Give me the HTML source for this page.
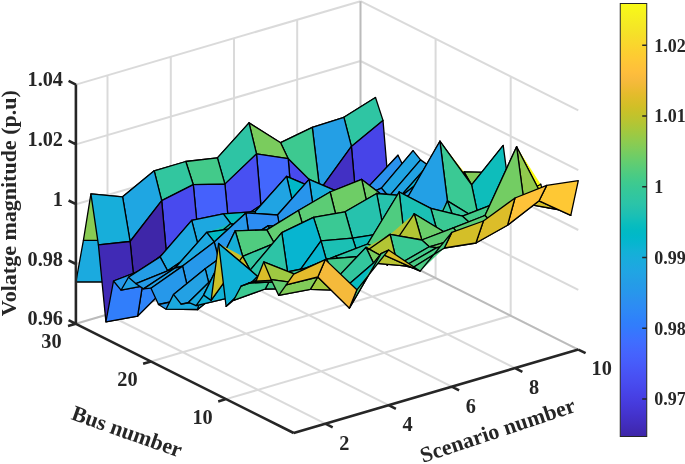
<!DOCTYPE html>
<html><head><meta charset="utf-8"><title>Voltage magnitude surface</title>
<style>html,body{margin:0;padding:0;background:#fff}svg{display:block}</style></head>
<body>
<svg width="685" height="464" viewBox="0 0 685 464">
<rect width="685" height="464" fill="#fff"/>
<g stroke="#262626" stroke-opacity="0.17" stroke-width="2" fill="none"><path d="M107.5 314.5L107.5 75.3M170.8 296.0L170.8 56.8M234.0 277.5L234.0 38.3M297.2 258.9L297.2 19.7M360.5 240.4L360.5 1.2M75.9 323.8L360.5 240.4M75.9 264.0L360.5 180.6M75.9 204.2L360.5 120.8M75.9 144.4L360.5 61.0M75.9 84.6L360.5 1.2"/><path d="M510.7 315.7L510.7 76.5M435.6 278.0L435.6 38.8M360.5 240.4L360.5 1.2M360.5 240.4L578.3 349.6M360.5 180.6L578.3 289.8M360.5 120.8L578.3 230.0M360.5 61.0L578.3 170.2M360.5 1.2L578.3 110.4"/><path d="M325.3 423.7L107.5 314.5M388.6 405.2L170.8 296.0M451.8 386.6L234.0 277.5M515.0 368.1L297.2 258.9M578.3 349.6L360.5 240.4M226.1 399.1L510.7 315.7M151.0 361.5L435.6 278.0M75.9 323.8L360.5 240.4"/></g>
<g stroke="#000" stroke-width="1.3" stroke-linejoin="round"><path d="M336.4 160.7L368.0 154.4L360.5 192.5ZM336.4 160.7L360.5 192.5L328.9 198.8Z" fill="#11b1d6" stroke="none"/><path d="M336.4 160.7L368.0 154.4L360.5 192.5L328.9 198.8Z" fill="none"/><path d="M304.8 179.0L336.4 160.7L328.9 198.8ZM304.8 179.0L328.9 198.8L297.2 217.1Z" fill="#20a5e3" stroke="none"/><path d="M304.8 179.0L336.4 160.7L328.9 198.8L297.2 217.1Z" fill="none"/><path d="M273.1 182.3L304.8 179.0L297.2 217.1ZM273.1 182.3L297.2 217.1L265.6 220.4Z" fill="#18aedb" stroke="none"/><path d="M273.1 182.3L304.8 179.0L297.2 217.1L265.6 220.4Z" fill="none"/><path d="M241.5 188.5L273.1 182.3L265.6 220.4ZM241.5 188.5L265.6 220.4L234.0 226.6Z" fill="#11b1d6" stroke="none"/><path d="M241.5 188.5L273.1 182.3L265.6 220.4L234.0 226.6Z" fill="none"/><path d="M209.9 203.8L241.5 188.5L234.0 226.6ZM209.9 203.8L234.0 226.6L202.4 241.9Z" fill="#1ca9df" stroke="none"/><path d="M209.9 203.8L241.5 188.5L234.0 226.6L202.4 241.9Z" fill="none"/><path d="M178.3 204.1L209.9 203.8L202.4 241.9ZM178.3 204.1L202.4 241.9L170.8 242.2Z" fill="#07b5d0" stroke="none"/><path d="M178.3 204.1L209.9 203.8L202.4 241.9L170.8 242.2Z" fill="none"/><path d="M146.7 219.3L178.3 204.1L170.8 242.2ZM146.7 219.3L170.8 242.2L139.2 257.4Z" fill="#18aedb" stroke="none"/><path d="M146.7 219.3L178.3 204.1L170.8 242.2L139.2 257.4Z" fill="none"/><path d="M115.0 240.3L146.7 219.3L139.2 257.4ZM115.0 240.3L139.2 257.4L107.5 282.0Z" fill="#259be7" stroke="none"/><path d="M115.0 240.3L146.7 219.3L139.2 257.4L107.5 282.0Z" fill="none"/><path d="M83.4 240.3L115.0 240.3L107.5 282.0ZM83.4 240.3L107.5 282.0L75.9 282.0Z" fill="#1baadf" stroke="none"/><path d="M83.4 240.3L115.0 240.3L107.5 282.0L75.9 282.0Z" fill="none"/><path d="M343.9 117.3L375.5 97.5L368.0 154.4ZM343.9 117.3L368.0 154.4L336.4 160.7Z" fill="#94ca4a" stroke="none"/><path d="M343.9 117.3L375.5 97.5L368.0 154.4L336.4 160.7Z" fill="none"/><path d="M312.3 127.4L343.9 117.3L336.4 160.7ZM312.3 127.4L336.4 160.7L304.8 179.0Z" fill="#90ca4d" stroke="none"/><path d="M312.3 127.4L343.9 117.3L336.4 160.7L304.8 179.0Z" fill="none"/><path d="M280.6 142.7L312.3 127.4L304.8 179.0ZM280.6 142.7L304.8 179.0L273.1 182.3Z" fill="#71cd64" stroke="none"/><path d="M280.6 142.7L312.3 127.4L304.8 179.0L273.1 182.3Z" fill="none"/><path d="M249.0 122.9L280.6 142.7L273.1 182.3ZM249.0 122.9L273.1 182.3L241.5 188.5Z" fill="#efba35" stroke="none"/><path d="M249.0 122.9L280.6 142.7L273.1 182.3L241.5 188.5Z" fill="none"/><path d="M217.4 157.9L249.0 122.9L241.5 188.5ZM217.4 157.9L241.5 188.5L209.9 203.8Z" fill="#82cc58" stroke="none"/><path d="M217.4 157.9L249.0 122.9L241.5 188.5L209.9 203.8Z" fill="none"/><path d="M185.8 161.5L217.4 157.9L209.9 203.8ZM185.8 161.5L209.9 203.8L178.3 204.1Z" fill="#9ec942" stroke="none"/><path d="M185.8 161.5L217.4 157.9L209.9 203.8L178.3 204.1Z" fill="none"/><path d="M154.2 170.8L185.8 161.5L178.3 204.1ZM154.2 170.8L178.3 204.1L146.7 219.3Z" fill="#9ec942" stroke="none"/><path d="M154.2 170.8L185.8 161.5L178.3 204.1L146.7 219.3Z" fill="none"/><path d="M122.6 196.8L154.2 170.8L146.7 219.3ZM122.6 196.8L146.7 219.3L115.0 240.3Z" fill="#4ecc81" stroke="none"/><path d="M122.6 196.8L154.2 170.8L146.7 219.3L115.0 240.3Z" fill="none"/><path d="M90.9 193.8L122.6 196.8L115.0 240.3ZM90.9 193.8L115.0 240.3L83.4 240.3Z" fill="#88cb53" stroke="none"/><path d="M90.9 193.8L122.6 196.8L115.0 240.3L83.4 240.3Z" fill="none"/><path d="M351.4 146.4L375.5 97.5L383.0 120.4ZM351.4 146.4L343.9 117.3L375.5 97.5Z" fill="#2fc5a3" stroke="none"/><path d="M351.4 146.4L383.0 120.4L375.5 97.5L343.9 117.3Z" fill="none"/><path d="M319.8 190.1L343.9 117.3L351.4 146.4ZM319.8 190.1L312.3 127.4L343.9 117.3Z" fill="#249fe5" stroke="none"/><path d="M319.8 190.1L351.4 146.4L343.9 117.3L312.3 127.4Z" fill="none"/><path d="M288.2 158.7L312.3 127.4L319.8 190.1ZM288.2 158.7L280.6 142.7L312.3 127.4Z" fill="#3dc990" stroke="none"/><path d="M288.2 158.7L319.8 190.1L312.3 127.4L280.6 142.7Z" fill="none"/><path d="M256.5 153.9L280.6 142.7L288.2 158.7ZM256.5 153.9L249.0 122.9L280.6 142.7Z" fill="#7acc5d" stroke="none"/><path d="M256.5 153.9L288.2 158.7L280.6 142.7L249.0 122.9Z" fill="none"/><path d="M224.9 184.1L249.0 122.9L256.5 153.9ZM224.9 184.1L217.4 157.9L249.0 122.9Z" fill="#2ec4a4" stroke="none"/><path d="M224.9 184.1L256.5 153.9L249.0 122.9L217.4 157.9Z" fill="none"/><path d="M193.3 184.7L217.4 157.9L224.9 184.1ZM193.3 184.7L185.8 161.5L217.4 157.9Z" fill="#43ca8a" stroke="none"/><path d="M193.3 184.7L224.9 184.1L217.4 157.9L185.8 161.5Z" fill="none"/><path d="M161.7 200.6L185.8 161.5L193.3 184.7ZM161.7 200.6L154.2 170.8L185.8 161.5Z" fill="#32c69f" stroke="none"/><path d="M161.7 200.6L193.3 184.7L185.8 161.5L154.2 170.8Z" fill="none"/><path d="M130.1 241.5L154.2 170.8L161.7 200.6ZM130.1 241.5L122.6 196.8L154.2 170.8Z" fill="#1fa6e2" stroke="none"/><path d="M130.1 241.5L161.7 200.6L154.2 170.8L122.6 196.8Z" fill="none"/><path d="M98.4 244.8L122.6 196.8L130.1 241.5ZM98.4 244.8L90.9 193.8L122.6 196.8Z" fill="#17aeda" stroke="none"/><path d="M98.4 244.8L130.1 241.5L122.6 196.8L90.9 193.8Z" fill="none"/><path d="M358.9 231.8L383.0 120.4L390.5 210.6ZM358.9 231.8L351.4 146.4L383.0 120.4Z" fill="#4744e8" stroke="none"/><path d="M358.9 231.8L390.5 210.6L383.0 120.4L351.4 146.4Z" fill="none"/><path d="M327.3 253.1L351.4 146.4L358.9 231.8ZM327.3 253.1L319.8 190.1L351.4 146.4Z" fill="#4230c4" stroke="none"/><path d="M327.3 253.1L358.9 231.8L351.4 146.4L319.8 190.1Z" fill="none"/><path d="M295.7 247.4L319.8 190.1L327.3 253.1ZM295.7 247.4L288.2 158.7L319.8 190.1Z" fill="#484aee" stroke="none"/><path d="M295.7 247.4L327.3 253.1L319.8 190.1L288.2 158.7Z" fill="none"/><path d="M264.0 241.7L288.2 158.7L295.7 247.4ZM264.0 241.7L256.5 153.9L288.2 158.7Z" fill="#4367fd" stroke="none"/><path d="M264.0 241.7L295.7 247.4L288.2 158.7L256.5 153.9Z" fill="none"/><path d="M232.4 262.9L256.5 153.9L264.0 241.7ZM232.4 262.9L224.9 184.1L256.5 153.9Z" fill="#4850f2" stroke="none"/><path d="M232.4 262.9L264.0 241.7L256.5 153.9L224.9 184.1Z" fill="none"/><path d="M200.8 263.2L224.9 184.1L232.4 262.9ZM200.8 263.2L193.3 184.7L224.9 184.1Z" fill="#4561fc" stroke="none"/><path d="M200.8 263.2L232.4 262.9L224.9 184.1L193.3 184.7Z" fill="none"/><path d="M169.2 284.5L193.3 184.7L200.8 263.2ZM169.2 284.5L161.7 200.6L193.3 184.7Z" fill="#484aee" stroke="none"/><path d="M169.2 284.5L200.8 263.2L193.3 184.7L161.7 200.6Z" fill="none"/><path d="M137.6 316.1L161.7 200.6L169.2 284.5ZM137.6 316.1L130.1 241.5L161.7 200.6Z" fill="#3e26a8" stroke="none"/><path d="M137.6 316.1L169.2 284.5L161.7 200.6L130.1 241.5Z" fill="none"/><path d="M105.9 321.8L130.1 241.5L137.6 316.1ZM105.9 321.8L98.4 244.8L130.1 241.5Z" fill="#402ab5" stroke="none"/><path d="M105.9 321.8L137.6 316.1L130.1 241.5L98.4 244.8Z" fill="none"/><path d="M366.4 188.9L398.0 155.2L390.5 210.6ZM366.4 188.9L390.5 210.6L358.9 231.8Z" fill="#249ee6" stroke="none"/><path d="M366.4 188.9L398.0 155.2L390.5 210.6L358.9 231.8Z" fill="none"/><path d="M334.8 204.8L366.4 188.9L358.9 231.8ZM334.8 204.8L358.9 231.8L327.3 253.1Z" fill="#2a93ee" stroke="none"/><path d="M334.8 204.8L366.4 188.9L358.9 231.8L327.3 253.1Z" fill="none"/><path d="M303.2 197.9L334.8 204.8L327.3 253.1ZM303.2 197.9L327.3 253.1L295.7 247.4Z" fill="#19addc" stroke="none"/><path d="M303.2 197.9L334.8 204.8L327.3 253.1L295.7 247.4Z" fill="none"/><path d="M271.6 198.2L303.2 197.9L295.7 247.4ZM271.6 198.2L295.7 247.4L264.0 241.7Z" fill="#01b7ca" stroke="none"/><path d="M271.6 198.2L303.2 197.9L295.7 247.4L264.0 241.7Z" fill="none"/><path d="M239.9 219.1L271.6 198.2L264.0 241.7ZM239.9 219.1L264.0 241.7L232.4 262.9Z" fill="#1da9e0" stroke="none"/><path d="M239.9 219.1L271.6 198.2L264.0 241.7L232.4 262.9Z" fill="none"/><path d="M208.3 226.3L239.9 219.1L232.4 262.9ZM208.3 226.3L232.4 262.9L200.8 263.2Z" fill="#1aacdd" stroke="none"/><path d="M208.3 226.3L239.9 219.1L232.4 262.9L200.8 263.2Z" fill="none"/><path d="M176.7 242.8L208.3 226.3L200.8 263.2ZM176.7 242.8L200.8 263.2L169.2 284.5Z" fill="#23a1e4" stroke="none"/><path d="M176.7 242.8L208.3 226.3L200.8 263.2L169.2 284.5Z" fill="none"/><path d="M145.1 268.8L176.7 242.8L169.2 284.5ZM145.1 268.8L169.2 284.5L137.6 316.1Z" fill="#2e84f9" stroke="none"/><path d="M145.1 268.8L176.7 242.8L169.2 284.5L137.6 316.1Z" fill="none"/><path d="M113.5 281.0L145.1 268.8L137.6 316.1ZM113.5 281.0L137.6 316.1L105.9 321.8Z" fill="#317efb" stroke="none"/><path d="M113.5 281.0L145.1 268.8L137.6 316.1L105.9 321.8Z" fill="none"/><path d="M373.9 199.6L398.0 155.2L405.5 170.6ZM373.9 199.6L366.4 188.9L398.0 155.2Z" fill="#2a92ee" stroke="none"/><path d="M373.9 199.6L405.5 170.6L398.0 155.2L366.4 188.9Z" fill="none"/><path d="M342.3 236.4L366.4 188.9L373.9 199.6ZM342.3 236.4L334.8 204.8L366.4 188.9Z" fill="#475cfa" stroke="none"/><path d="M342.3 236.4L373.9 199.6L366.4 188.9L334.8 204.8Z" fill="none"/><path d="M310.7 217.8L334.8 204.8L342.3 236.4ZM310.7 217.8L303.2 197.9L334.8 204.8Z" fill="#2a93ee" stroke="none"/><path d="M310.7 217.8L342.3 236.4L334.8 204.8L303.2 197.9Z" fill="none"/><path d="M279.1 225.0L303.2 197.9L310.7 217.8ZM279.1 225.0L271.6 198.2L303.2 197.9Z" fill="#2797eb" stroke="none"/><path d="M279.1 225.0L310.7 217.8L303.2 197.9L271.6 198.2Z" fill="none"/><path d="M247.5 245.6L271.6 198.2L279.1 225.0ZM247.5 245.6L239.9 219.1L271.6 198.2Z" fill="#2f82fa" stroke="none"/><path d="M247.5 245.6L279.1 225.0L271.6 198.2L239.9 219.1Z" fill="none"/><path d="M215.8 244.4L239.9 219.1L247.5 245.6ZM215.8 244.4L208.3 226.3L239.9 219.1Z" fill="#2895ec" stroke="none"/><path d="M215.8 244.4L247.5 245.6L239.9 219.1L208.3 226.3Z" fill="none"/><path d="M184.2 248.6L208.3 226.3L215.8 244.4ZM184.2 248.6L176.7 242.8L208.3 226.3Z" fill="#249de6" stroke="none"/><path d="M184.2 248.6L215.8 244.4L208.3 226.3L176.7 242.8Z" fill="none"/><path d="M152.6 284.2L176.7 242.8L184.2 248.6ZM152.6 284.2L145.1 268.8L176.7 242.8Z" fill="#2698ea" stroke="none"/><path d="M152.6 284.2L184.2 248.6L176.7 242.8L145.1 268.8Z" fill="none"/><path d="M121.0 290.2L145.1 268.8L152.6 284.2ZM121.0 290.2L113.5 281.0L145.1 268.8Z" fill="#2698ea" stroke="none"/><path d="M121.0 290.2L152.6 284.2L145.1 268.8L113.5 281.0Z" fill="none"/><path d="M381.4 188.1L413.1 150.7L405.5 170.6ZM381.4 188.1L405.5 170.6L373.9 199.6Z" fill="#1babde" stroke="none"/><path d="M381.4 188.1L413.1 150.7L405.5 170.6L373.9 199.6Z" fill="none"/><path d="M349.8 202.2L381.4 188.1L373.9 199.6ZM349.8 202.2L373.9 199.6L342.3 236.4Z" fill="#21a4e3" stroke="none"/><path d="M349.8 202.2L381.4 188.1L373.9 199.6L342.3 236.4Z" fill="none"/><path d="M318.2 189.9L349.8 202.2L342.3 236.4ZM318.2 189.9L342.3 236.4L310.7 217.8Z" fill="#0ebdbb" stroke="none"/><path d="M318.2 189.9L349.8 202.2L342.3 236.4L310.7 217.8Z" fill="none"/><path d="M286.6 176.4L318.2 189.9L310.7 217.8ZM286.6 176.4L310.7 217.8L279.1 225.0Z" fill="#57cc7a" stroke="none"/><path d="M286.6 176.4L318.2 189.9L310.7 217.8L279.1 225.0Z" fill="none"/><path d="M255.0 211.7L286.6 176.4L279.1 225.0ZM255.0 211.7L279.1 225.0L247.5 245.6Z" fill="#02bbc3" stroke="none"/><path d="M255.0 211.7L286.6 176.4L279.1 225.0L247.5 245.6Z" fill="none"/><path d="M223.3 213.8L255.0 211.7L247.5 245.6ZM223.3 213.8L247.5 245.6L215.8 244.4Z" fill="#1fc0b2" stroke="none"/><path d="M223.3 213.8L255.0 211.7L247.5 245.6L215.8 244.4Z" fill="none"/><path d="M191.7 220.4L223.3 213.8L215.8 244.4ZM191.7 220.4L215.8 244.4L184.2 248.6Z" fill="#27c2ab" stroke="none"/><path d="M191.7 220.4L223.3 213.8L215.8 244.4L184.2 248.6Z" fill="none"/><path d="M160.1 256.9L191.7 220.4L184.2 248.6ZM160.1 256.9L184.2 248.6L152.6 284.2Z" fill="#23a0e5" stroke="none"/><path d="M160.1 256.9L191.7 220.4L184.2 248.6L152.6 284.2Z" fill="none"/><path d="M128.5 277.2L160.1 256.9L152.6 284.2ZM128.5 277.2L152.6 284.2L121.0 290.2Z" fill="#22a2e4" stroke="none"/><path d="M128.5 277.2L160.1 256.9L152.6 284.2L121.0 290.2Z" fill="none"/><path d="M388.9 196.7L413.1 150.7L420.6 159.9ZM388.9 196.7L381.4 188.1L413.1 150.7Z" fill="#21a4e3" stroke="none"/><path d="M388.9 196.7L420.6 159.9L413.1 150.7L381.4 188.1Z" fill="none"/><path d="M357.3 216.1L381.4 188.1L388.9 196.7ZM357.3 216.1L349.8 202.2L381.4 188.1Z" fill="#2a93ee" stroke="none"/><path d="M357.3 216.1L388.9 196.7L381.4 188.1L349.8 202.2Z" fill="none"/><path d="M325.7 211.9L349.8 202.2L357.3 216.1ZM325.7 211.9L318.2 189.9L349.8 202.2Z" fill="#1da9e0" stroke="none"/><path d="M325.7 211.9L357.3 216.1L349.8 202.2L318.2 189.9Z" fill="none"/><path d="M294.1 208.6L318.2 189.9L325.7 211.9ZM294.1 208.6L286.6 176.4L318.2 189.9Z" fill="#01b8c8" stroke="none"/><path d="M294.1 208.6L325.7 211.9L318.2 189.9L286.6 176.4Z" fill="none"/><path d="M262.5 233.4L286.6 176.4L294.1 208.6ZM262.5 233.4L255.0 211.7L286.6 176.4Z" fill="#20a4e3" stroke="none"/><path d="M262.5 233.4L294.1 208.6L286.6 176.4L255.0 211.7Z" fill="none"/><path d="M230.8 223.6L255.0 211.7L262.5 233.4ZM230.8 223.6L223.3 213.8L255.0 211.7Z" fill="#06bcc0" stroke="none"/><path d="M230.8 223.6L262.5 233.4L255.0 211.7L223.3 213.8Z" fill="none"/><path d="M199.2 249.3L223.3 213.8L230.8 223.6ZM199.2 249.3L191.7 220.4L223.3 213.8Z" fill="#1da8e0" stroke="none"/><path d="M199.2 249.3L230.8 223.6L223.3 213.8L191.7 220.4Z" fill="none"/><path d="M167.6 270.8L191.7 220.4L199.2 249.3ZM167.6 270.8L160.1 256.9L191.7 220.4Z" fill="#1da8e0" stroke="none"/><path d="M167.6 270.8L199.2 249.3L191.7 220.4L160.1 256.9Z" fill="none"/><path d="M136.0 283.7L160.1 256.9L167.6 270.8ZM136.0 283.7L128.5 277.2L160.1 256.9Z" fill="#249de6" stroke="none"/><path d="M136.0 283.7L167.6 270.8L160.1 256.9L128.5 277.2Z" fill="none"/><path d="M396.5 200.7L420.6 159.9L428.1 165.1ZM396.5 200.7L388.9 196.7L420.6 159.9Z" fill="#21a3e3" stroke="none"/><path d="M396.5 200.7L428.1 165.1L420.6 159.9L388.9 196.7Z" fill="none"/><path d="M364.8 220.2L388.9 196.7L396.5 200.7ZM364.8 220.2L357.3 216.1L388.9 196.7Z" fill="#2a92ee" stroke="none"/><path d="M364.8 220.2L396.5 200.7L388.9 196.7L357.3 216.1Z" fill="none"/><path d="M333.2 196.8L364.8 220.2L357.3 216.1ZM333.2 196.8L357.3 216.1L325.7 211.9Z" fill="#10beba" stroke="none"/><path d="M333.2 196.8L364.8 220.2L357.3 216.1L325.7 211.9Z" fill="none"/><path d="M301.6 197.7L333.2 196.8L325.7 211.9ZM301.6 197.7L325.7 211.9L294.1 208.6Z" fill="#2dc4a5" stroke="none"/><path d="M301.6 197.7L333.2 196.8L325.7 211.9L294.1 208.6Z" fill="none"/><path d="M270.0 220.8L301.6 197.7L294.1 208.6ZM270.0 220.8L294.1 208.6L262.5 233.4Z" fill="#01b9c6" stroke="none"/><path d="M270.0 220.8L301.6 197.7L294.1 208.6L262.5 233.4Z" fill="none"/><path d="M238.4 227.6L270.0 220.8L262.5 233.4ZM238.4 227.6L230.8 223.6L262.5 233.4Z" fill="#05bbc1" stroke="none"/><path d="M238.4 227.6L270.0 220.8L262.5 233.4L230.8 223.6Z" fill="none"/><path d="M206.7 232.4L230.8 223.6L238.4 227.6ZM206.7 232.4L230.8 223.6L199.2 249.3Z" fill="#17bfb6" stroke="none"/><path d="M206.7 232.4L238.4 227.6L230.8 223.6L199.2 249.3Z" fill="none"/><path d="M175.1 268.0L206.7 232.4L199.2 249.3ZM175.1 268.0L167.6 270.8L199.2 249.3Z" fill="#20a4e3" stroke="none"/><path d="M175.1 268.0L206.7 232.4L199.2 249.3L167.6 270.8Z" fill="none"/><path d="M143.5 288.9L167.6 270.8L175.1 268.0ZM143.5 288.9L136.0 283.7L167.6 270.8Z" fill="#259be8" stroke="none"/><path d="M143.5 288.9L175.1 268.0L167.6 270.8L136.0 283.7Z" fill="none"/><path d="M404.0 194.0L428.1 165.1L435.6 169.5ZM404.0 194.0L396.5 200.7L428.1 165.1Z" fill="#0fb2d4" stroke="none"/><path d="M404.0 194.0L435.6 169.5L428.1 165.1L396.5 200.7Z" fill="none"/><path d="M372.3 209.3L404.0 194.0L396.5 200.7ZM372.3 209.3L396.5 200.7L364.8 220.2Z" fill="#1baadf" stroke="none"/><path d="M372.3 209.3L404.0 194.0L396.5 200.7L364.8 220.2Z" fill="none"/><path d="M340.7 192.8L372.3 209.3L364.8 220.2ZM340.7 192.8L364.8 220.2L333.2 196.8Z" fill="#2cc4a7" stroke="none"/><path d="M340.7 192.8L372.3 209.3L364.8 220.2L333.2 196.8Z" fill="none"/><path d="M309.1 179.4L340.7 192.8L333.2 196.8ZM309.1 179.4L333.2 196.8L301.6 197.7Z" fill="#7fcc5a" stroke="none"/><path d="M309.1 179.4L340.7 192.8L333.2 196.8L301.6 197.7Z" fill="none"/><path d="M277.5 215.0L309.1 179.4L301.6 197.7ZM277.5 215.0L301.6 197.7L270.0 220.8Z" fill="#22c1b0" stroke="none"/><path d="M277.5 215.0L309.1 179.4L301.6 197.7L270.0 220.8Z" fill="none"/><path d="M245.9 212.9L277.5 215.0L270.0 220.8ZM245.9 212.9L270.0 220.8L238.4 227.6Z" fill="#3dc990" stroke="none"/><path d="M245.9 212.9L277.5 215.0L270.0 220.8L238.4 227.6Z" fill="none"/><path d="M214.2 241.9L245.9 212.9L238.4 227.6ZM214.2 241.9L206.7 232.4L238.4 227.6Z" fill="#02bac4" stroke="none"/><path d="M214.2 241.9L245.9 212.9L238.4 227.6L206.7 232.4Z" fill="none"/><path d="M182.6 266.1L206.7 232.4L214.2 241.9ZM182.6 266.1L175.1 268.0L206.7 232.4Z" fill="#1da8e0" stroke="none"/><path d="M182.6 266.1L214.2 241.9L206.7 232.4L175.1 268.0Z" fill="none"/><path d="M151.0 288.2L175.1 268.0L182.6 266.1ZM151.0 288.2L143.5 288.9L175.1 268.0Z" fill="#22a2e4" stroke="none"/><path d="M151.0 288.2L182.6 266.1L175.1 268.0L143.5 288.9Z" fill="none"/><path d="M411.5 210.9L435.6 169.5L443.1 188.8ZM411.5 210.9L404.0 194.0L435.6 169.5Z" fill="#249fe5" stroke="none"/><path d="M411.5 210.9L443.1 188.8L435.6 169.5L404.0 194.0Z" fill="none"/><path d="M379.9 255.8L404.0 194.0L411.5 210.9ZM379.9 255.8L372.3 209.3L404.0 194.0Z" fill="#475bf9" stroke="none"/><path d="M379.9 255.8L411.5 210.9L404.0 194.0L372.3 209.3Z" fill="none"/><path d="M348.2 225.3L372.3 209.3L379.9 255.8ZM348.2 225.3L340.7 192.8L372.3 209.3Z" fill="#1fa6e2" stroke="none"/><path d="M348.2 225.3L379.9 255.8L372.3 209.3L340.7 192.8Z" fill="none"/><path d="M316.6 229.8L340.7 192.8L348.2 225.3ZM316.6 229.8L309.1 179.4L340.7 192.8Z" fill="#19addc" stroke="none"/><path d="M316.6 229.8L348.2 225.3L340.7 192.8L309.1 179.4Z" fill="none"/><path d="M285.0 254.0L309.1 179.4L316.6 229.8ZM285.0 254.0L277.5 215.0L309.1 179.4Z" fill="#2895ec" stroke="none"/><path d="M285.0 254.0L316.6 229.8L309.1 179.4L277.5 215.0Z" fill="none"/><path d="M253.4 267.8L277.5 215.0L285.0 254.0ZM253.4 267.8L245.9 212.9L277.5 215.0Z" fill="#2d8df2" stroke="none"/><path d="M253.4 267.8L285.0 254.0L277.5 215.0L245.9 212.9Z" fill="none"/><path d="M221.8 270.7L245.9 212.9L253.4 267.8ZM221.8 270.7L214.2 241.9L245.9 212.9Z" fill="#2798ea" stroke="none"/><path d="M221.8 270.7L253.4 267.8L245.9 212.9L214.2 241.9Z" fill="none"/><path d="M190.1 298.0L214.2 241.9L221.8 270.7ZM190.1 298.0L182.6 266.1L214.2 241.9Z" fill="#2698ea" stroke="none"/><path d="M190.1 298.0L221.8 270.7L214.2 241.9L182.6 266.1Z" fill="none"/><path d="M158.5 304.5L182.6 266.1L190.1 298.0ZM158.5 304.5L151.0 288.2L182.6 266.1Z" fill="#2698ea" stroke="none"/><path d="M158.5 304.5L190.1 298.0L182.6 266.1L151.0 288.2Z" fill="none"/><path d="M419.0 218.6L443.1 188.8L450.6 193.5ZM419.0 218.6L411.5 210.9L443.1 188.8Z" fill="#2698ea" stroke="none"/><path d="M419.0 218.6L450.6 193.5L443.1 188.8L411.5 210.9Z" fill="none"/><path d="M387.4 265.2L411.5 210.9L419.0 218.6ZM387.4 265.2L379.9 255.8L411.5 210.9Z" fill="#4850f2" stroke="none"/><path d="M387.4 265.2L419.0 218.6L411.5 210.9L379.9 255.8Z" fill="none"/><path d="M355.7 231.4L379.9 255.8L387.4 265.2ZM355.7 231.4L379.9 255.8L348.2 225.3Z" fill="#22a2e4" stroke="none"/><path d="M355.7 231.4L387.4 265.2L379.9 255.8L348.2 225.3Z" fill="none"/><path d="M324.1 226.1L348.2 225.3L355.7 231.4ZM324.1 226.1L348.2 225.3L316.6 229.8Z" fill="#05b6ce" stroke="none"/><path d="M324.1 226.1L355.7 231.4L348.2 225.3L316.6 229.8Z" fill="none"/><path d="M292.5 263.7L316.6 229.8L324.1 226.1ZM292.5 263.7L285.0 254.0L316.6 229.8Z" fill="#2d8af4" stroke="none"/><path d="M292.5 263.7L324.1 226.1L316.6 229.8L285.0 254.0Z" fill="none"/><path d="M260.9 259.3L285.0 254.0L292.5 263.7ZM260.9 259.3L285.0 254.0L253.4 267.8Z" fill="#22a2e4" stroke="none"/><path d="M260.9 259.3L292.5 263.7L285.0 254.0L253.4 267.8Z" fill="none"/><path d="M229.3 283.8L260.9 259.3L253.4 267.8ZM229.3 283.8L221.8 270.7L253.4 267.8Z" fill="#2d87f6" stroke="none"/><path d="M229.3 283.8L260.9 259.3L253.4 267.8L221.8 270.7Z" fill="none"/><path d="M197.6 309.5L221.8 270.7L229.3 283.8ZM197.6 309.5L190.1 298.0L221.8 270.7Z" fill="#2698ea" stroke="none"/><path d="M197.6 309.5L229.3 283.8L221.8 270.7L190.1 298.0Z" fill="none"/><path d="M166.0 309.2L190.1 298.0L197.6 309.5ZM166.0 309.2L158.5 304.5L190.1 298.0Z" fill="#2698ea" stroke="none"/><path d="M166.0 309.2L197.6 309.5L190.1 298.0L158.5 304.5Z" fill="none"/><path d="M426.5 211.6L458.1 174.5L450.6 193.5ZM426.5 211.6L450.6 193.5L419.0 218.6Z" fill="#1caadf" stroke="none"/><path d="M426.5 211.6L458.1 174.5L450.6 193.5L419.0 218.6Z" fill="none"/><path d="M394.9 219.4L426.5 211.6L419.0 218.6ZM394.9 219.4L419.0 218.6L387.4 265.2Z" fill="#1aacdd" stroke="none"/><path d="M394.9 219.4L426.5 211.6L419.0 218.6L387.4 265.2Z" fill="none"/><path d="M363.3 200.2L394.9 219.4L387.4 265.2ZM363.3 200.2L387.4 265.2L355.7 231.4Z" fill="#34c79c" stroke="none"/><path d="M363.3 200.2L394.9 219.4L387.4 265.2L355.7 231.4Z" fill="none"/><path d="M331.6 197.2L363.3 200.2L355.7 231.4ZM331.6 197.2L355.7 231.4L324.1 226.1Z" fill="#5fcd73" stroke="none"/><path d="M331.6 197.2L363.3 200.2L355.7 231.4L324.1 226.1Z" fill="none"/><path d="M300.0 229.2L331.6 197.2L324.1 226.1ZM300.0 229.2L324.1 226.1L292.5 263.7Z" fill="#16bfb7" stroke="none"/><path d="M300.0 229.2L331.6 197.2L324.1 226.1L292.5 263.7Z" fill="none"/><path d="M268.4 225.6L300.0 229.2L292.5 263.7ZM268.4 225.6L292.5 263.7L260.9 259.3Z" fill="#39c895" stroke="none"/><path d="M268.4 225.6L300.0 229.2L292.5 263.7L260.9 259.3Z" fill="none"/><path d="M236.8 246.0L268.4 225.6L260.9 259.3ZM236.8 246.0L260.9 259.3L229.3 283.8Z" fill="#1dc0b3" stroke="none"/><path d="M236.8 246.0L268.4 225.6L260.9 259.3L229.3 283.8Z" fill="none"/><path d="M205.2 268.7L236.8 246.0L229.3 283.8ZM205.2 268.7L229.3 283.8L197.6 309.5Z" fill="#13b0d7" stroke="none"/><path d="M205.2 268.7L236.8 246.0L229.3 283.8L197.6 309.5Z" fill="none"/><path d="M173.5 294.4L205.2 268.7L197.6 309.5ZM173.5 294.4L197.6 309.5L166.0 309.2Z" fill="#1baadf" stroke="none"/><path d="M173.5 294.4L205.2 268.7L197.6 309.5L166.0 309.2Z" fill="none"/><path d="M434.0 210.0L458.1 174.5L465.6 191.7ZM434.0 210.0L426.5 211.6L458.1 174.5Z" fill="#12b1d6" stroke="none"/><path d="M434.0 210.0L465.6 191.7L458.1 174.5L426.5 211.6Z" fill="none"/><path d="M402.4 242.9L426.5 211.6L434.0 210.0ZM402.4 242.9L394.9 219.4L426.5 211.6Z" fill="#2d8bf3" stroke="none"/><path d="M402.4 242.9L434.0 210.0L426.5 211.6L394.9 219.4Z" fill="none"/><path d="M370.8 231.2L394.9 219.4L402.4 242.9ZM370.8 231.2L363.3 200.2L394.9 219.4Z" fill="#18aedb" stroke="none"/><path d="M370.8 231.2L402.4 242.9L394.9 219.4L363.3 200.2Z" fill="none"/><path d="M339.1 225.2L363.3 200.2L370.8 231.2ZM339.1 225.2L331.6 197.2L363.3 200.2Z" fill="#0fbeba" stroke="none"/><path d="M339.1 225.2L370.8 231.2L363.3 200.2L331.6 197.2Z" fill="none"/><path d="M307.5 245.9L331.6 197.2L339.1 225.2ZM307.5 245.9L300.0 229.2L331.6 197.2Z" fill="#0eb2d4" stroke="none"/><path d="M307.5 245.9L339.1 225.2L331.6 197.2L300.0 229.2Z" fill="none"/><path d="M275.9 256.6L300.0 229.2L307.5 245.9ZM275.9 256.6L268.4 225.6L300.0 229.2Z" fill="#12b1d7" stroke="none"/><path d="M275.9 256.6L307.5 245.9L300.0 229.2L268.4 225.6Z" fill="none"/><path d="M244.3 270.7L268.4 225.6L275.9 256.6ZM244.3 270.7L236.8 246.0L268.4 225.6Z" fill="#1baadf" stroke="none"/><path d="M244.3 270.7L275.9 256.6L268.4 225.6L236.8 246.0Z" fill="none"/><path d="M212.7 298.8L236.8 246.0L244.3 270.7ZM212.7 298.8L205.2 268.7L236.8 246.0Z" fill="#20a4e3" stroke="none"/><path d="M212.7 298.8L244.3 270.7L236.8 246.0L205.2 268.7Z" fill="none"/><path d="M181.1 304.2L205.2 268.7L212.7 298.8ZM181.1 304.2L173.5 294.4L205.2 268.7Z" fill="#23a1e4" stroke="none"/><path d="M181.1 304.2L212.7 298.8L205.2 268.7L173.5 294.4Z" fill="none"/><path d="M441.5 213.7L465.6 191.7L473.1 186.8ZM441.5 213.7L434.0 210.0L465.6 191.7Z" fill="#12b1d6" stroke="none"/><path d="M441.5 213.7L473.1 186.8L465.6 191.7L434.0 210.0Z" fill="none"/><path d="M409.9 241.8L434.0 210.0L441.5 213.7ZM409.9 241.8L402.4 242.9L434.0 210.0Z" fill="#2994ed" stroke="none"/><path d="M409.9 241.8L441.5 213.7L434.0 210.0L402.4 242.9Z" fill="none"/><path d="M378.3 212.5L409.9 241.8L402.4 242.9ZM378.3 212.5L402.4 242.9L370.8 231.2Z" fill="#2ac3a9" stroke="none"/><path d="M378.3 212.5L409.9 241.8L402.4 242.9L370.8 231.2Z" fill="none"/><path d="M346.7 201.5L378.3 212.5L370.8 231.2ZM346.7 201.5L370.8 231.2L339.1 225.2Z" fill="#6ecd66" stroke="none"/><path d="M346.7 201.5L378.3 212.5L370.8 231.2L339.1 225.2Z" fill="none"/><path d="M315.0 241.0L346.7 201.5L339.1 225.2ZM315.0 241.0L339.1 225.2L307.5 245.9Z" fill="#05bbc1" stroke="none"/><path d="M315.0 241.0L346.7 201.5L339.1 225.2L307.5 245.9Z" fill="none"/><path d="M283.4 246.0L315.0 241.0L307.5 245.9ZM283.4 246.0L307.5 245.9L275.9 256.6Z" fill="#16bfb7" stroke="none"/><path d="M283.4 246.0L315.0 241.0L307.5 245.9L275.9 256.6Z" fill="none"/><path d="M251.8 252.3L283.4 246.0L275.9 256.6ZM251.8 252.3L275.9 256.6L244.3 270.7Z" fill="#22c1b0" stroke="none"/><path d="M251.8 252.3L283.4 246.0L275.9 256.6L244.3 270.7Z" fill="none"/><path d="M220.2 271.2L251.8 252.3L244.3 270.7ZM220.2 271.2L244.3 270.7L212.7 298.8Z" fill="#07bcbf" stroke="none"/><path d="M220.2 271.2L251.8 252.3L244.3 270.7L212.7 298.8Z" fill="none"/><path d="M188.6 302.3L220.2 271.2L212.7 298.8ZM188.6 302.3L212.7 298.8L181.1 304.2Z" fill="#1caadf" stroke="none"/><path d="M188.6 302.3L220.2 271.2L212.7 298.8L181.1 304.2Z" fill="none"/><path d="M449.0 221.4L473.1 186.8L480.6 178.9ZM449.0 221.4L441.5 213.7L473.1 186.8Z" fill="#1aacdd" stroke="none"/><path d="M449.0 221.4L480.6 178.9L473.1 186.8L441.5 213.7Z" fill="none"/><path d="M417.4 247.1L441.5 213.7L449.0 221.4ZM417.4 247.1L409.9 241.8L441.5 213.7Z" fill="#2b91ef" stroke="none"/><path d="M417.4 247.1L449.0 221.4L441.5 213.7L409.9 241.8Z" fill="none"/><path d="M385.8 225.6L409.9 241.8L417.4 247.1ZM385.8 225.6L378.3 212.5L409.9 241.8Z" fill="#07bcbf" stroke="none"/><path d="M385.8 225.6L417.4 247.1L409.9 241.8L378.3 212.5Z" fill="none"/><path d="M354.2 216.6L378.3 212.5L385.8 225.6ZM354.2 216.6L346.7 201.5L378.3 212.5Z" fill="#3eca8f" stroke="none"/><path d="M354.2 216.6L385.8 225.6L378.3 212.5L346.7 201.5Z" fill="none"/><path d="M322.6 245.3L346.7 201.5L354.2 216.6ZM322.6 245.3L315.0 241.0L346.7 201.5Z" fill="#03bbc2" stroke="none"/><path d="M322.6 245.3L354.2 216.6L346.7 201.5L315.0 241.0Z" fill="none"/><path d="M290.9 252.5L315.0 241.0L322.6 245.3ZM290.9 252.5L283.4 246.0L315.0 241.0Z" fill="#0abdbd" stroke="none"/><path d="M290.9 252.5L322.6 245.3L315.0 241.0L283.4 246.0Z" fill="none"/><path d="M259.3 274.0L283.4 246.0L290.9 252.5ZM259.3 274.0L251.8 252.3L283.4 246.0Z" fill="#14b0d8" stroke="none"/><path d="M259.3 274.0L290.9 252.5L283.4 246.0L251.8 252.3Z" fill="none"/><path d="M227.7 298.2L251.8 252.3L259.3 274.0ZM227.7 298.2L220.2 271.2L251.8 252.3Z" fill="#1aacdd" stroke="none"/><path d="M227.7 298.2L259.3 274.0L251.8 252.3L220.2 271.2Z" fill="none"/><path d="M196.1 305.7L220.2 271.2L227.7 298.2ZM196.1 305.7L188.6 302.3L220.2 271.2Z" fill="#1baadf" stroke="none"/><path d="M196.1 305.7L227.7 298.2L220.2 271.2L188.6 302.3Z" fill="none"/><path d="M456.5 176.1L488.2 175.8L480.6 178.9ZM456.5 176.1L480.6 178.9L449.0 221.4Z" fill="#88cb53" stroke="none"/><path d="M456.5 176.1L488.2 175.8L480.6 178.9L449.0 221.4Z" fill="none"/><path d="M424.9 203.3L456.5 176.1L449.0 221.4ZM424.9 203.3L449.0 221.4L417.4 247.1Z" fill="#3ac994" stroke="none"/><path d="M424.9 203.3L456.5 176.1L449.0 221.4L417.4 247.1Z" fill="none"/><path d="M393.3 203.6L424.9 203.3L417.4 247.1ZM393.3 203.6L417.4 247.1L385.8 225.6Z" fill="#5ccc75" stroke="none"/><path d="M393.3 203.6L424.9 203.3L417.4 247.1L385.8 225.6Z" fill="none"/><path d="M361.7 179.4L393.3 203.6L385.8 225.6ZM361.7 179.4L385.8 225.6L354.2 216.6Z" fill="#efba35" stroke="none"/><path d="M361.7 179.4L393.3 203.6L385.8 225.6L354.2 216.6Z" fill="none"/><path d="M330.1 192.0L361.7 179.4L354.2 216.6ZM330.1 192.0L354.2 216.6L322.6 245.3Z" fill="#e5bb2c" stroke="none"/><path d="M330.1 192.0L361.7 179.4L354.2 216.6L322.6 245.3Z" fill="none"/><path d="M298.4 210.5L330.1 192.0L322.6 245.3ZM298.4 210.5L322.6 245.3L290.9 252.5Z" fill="#c1c32c" stroke="none"/><path d="M298.4 210.5L330.1 192.0L322.6 245.3L290.9 252.5Z" fill="none"/><path d="M266.8 229.9L298.4 210.5L290.9 252.5ZM266.8 229.9L290.9 252.5L259.3 274.0Z" fill="#91ca4c" stroke="none"/><path d="M266.8 229.9L298.4 210.5L290.9 252.5L259.3 274.0Z" fill="none"/><path d="M235.2 230.8L266.8 229.9L259.3 274.0ZM235.2 230.8L259.3 274.0L227.7 298.2Z" fill="#b9c431" stroke="none"/><path d="M235.2 230.8L266.8 229.9L259.3 274.0L227.7 298.2Z" fill="none"/><path d="M203.6 295.1L235.2 230.8L227.7 298.2ZM203.6 295.1L227.7 298.2L196.1 305.7Z" fill="#11b1d6" stroke="none"/><path d="M203.6 295.1L235.2 230.8L227.7 298.2L196.1 305.7Z" fill="none"/><path d="M464.0 171.8L495.7 172.7L488.2 175.8ZM464.0 171.8L488.2 175.8L456.5 176.1Z" fill="#afc636" stroke="none"/><path d="M464.0 171.8L495.7 172.7L488.2 175.8L456.5 176.1Z" fill="none"/><path d="M432.4 219.1L456.5 176.1L464.0 171.8ZM432.4 219.1L424.9 203.3L456.5 176.1Z" fill="#1bc0b4" stroke="none"/><path d="M432.4 219.1L464.0 171.8L456.5 176.1L424.9 203.3Z" fill="none"/><path d="M400.8 219.4L424.9 203.3L432.4 219.1ZM400.8 219.4L393.3 203.6L424.9 203.3Z" fill="#33c69d" stroke="none"/><path d="M400.8 219.4L432.4 219.1L424.9 203.3L393.3 203.6Z" fill="none"/><path d="M369.2 213.1L393.3 203.6L400.8 219.4ZM369.2 213.1L361.7 179.4L393.3 203.6Z" fill="#6dcd68" stroke="none"/><path d="M369.2 213.1L400.8 219.4L393.3 203.6L361.7 179.4Z" fill="none"/><path d="M337.6 222.0L361.7 179.4L369.2 213.1ZM337.6 222.0L330.1 192.0L361.7 179.4Z" fill="#6ecd66" stroke="none"/><path d="M337.6 222.0L369.2 213.1L361.7 179.4L330.1 192.0Z" fill="none"/><path d="M305.9 235.2L330.1 192.0L337.6 222.0ZM305.9 235.2L298.4 210.5L330.1 192.0Z" fill="#5ccc75" stroke="none"/><path d="M305.9 235.2L337.6 222.0L330.1 192.0L298.4 210.5Z" fill="none"/><path d="M274.3 243.3L298.4 210.5L305.9 235.2ZM274.3 243.3L266.8 229.9L298.4 210.5Z" fill="#62cd71" stroke="none"/><path d="M274.3 243.3L305.9 235.2L298.4 210.5L266.8 229.9Z" fill="none"/><path d="M242.7 256.4L266.8 229.9L274.3 243.3ZM242.7 256.4L235.2 230.8L266.8 229.9Z" fill="#50cc7f" stroke="none"/><path d="M242.7 256.4L274.3 243.3L266.8 229.9L235.2 230.8Z" fill="none"/><path d="M211.1 300.4L235.2 230.8L242.7 256.4ZM211.1 300.4L203.6 295.1L235.2 230.8Z" fill="#15afd8" stroke="none"/><path d="M211.1 300.4L242.7 256.4L235.2 230.8L203.6 295.1Z" fill="none"/><path d="M471.6 184.8L503.2 145.4L495.7 172.7ZM471.6 184.8L464.0 171.8L495.7 172.7Z" fill="#82cc58" stroke="none"/><path d="M471.6 184.8L503.2 145.4L495.7 172.7L464.0 171.8Z" fill="none"/><path d="M439.9 141.2L464.0 171.8L471.6 184.8ZM439.9 141.2L464.0 171.8L432.4 219.1Z" fill="#f5eb23" stroke="none"/><path d="M439.9 141.2L471.6 184.8L464.0 171.8L432.4 219.1Z" fill="none"/><path d="M408.3 196.2L439.9 141.2L432.4 219.1ZM408.3 196.2L432.4 219.1L400.8 219.4Z" fill="#a5c83d" stroke="none"/><path d="M408.3 196.2L439.9 141.2L432.4 219.1L400.8 219.4Z" fill="none"/><path d="M376.7 193.5L408.3 196.2L400.8 219.4ZM376.7 193.5L400.8 219.4L369.2 213.1Z" fill="#d9be28" stroke="none"/><path d="M376.7 193.5L408.3 196.2L400.8 219.4L369.2 213.1Z" fill="none"/><path d="M345.1 211.8L376.7 193.5L369.2 213.1ZM345.1 211.8L369.2 213.1L337.6 222.0Z" fill="#b3c534" stroke="none"/><path d="M345.1 211.8L376.7 193.5L369.2 213.1L337.6 222.0Z" fill="none"/><path d="M313.5 217.4L345.1 211.8L337.6 222.0ZM313.5 217.4L337.6 222.0L305.9 235.2Z" fill="#c3c22b" stroke="none"/><path d="M313.5 217.4L345.1 211.8L337.6 222.0L305.9 235.2Z" fill="none"/><path d="M281.8 232.7L313.5 217.4L305.9 235.2ZM281.8 232.7L305.9 235.2L274.3 243.3Z" fill="#a8c73b" stroke="none"/><path d="M281.8 232.7L313.5 217.4L305.9 235.2L274.3 243.3Z" fill="none"/><path d="M250.2 270.1L281.8 232.7L274.3 243.3ZM250.2 270.1L242.7 256.4L274.3 243.3Z" fill="#32c69f" stroke="none"/><path d="M250.2 270.1L281.8 232.7L274.3 243.3L242.7 256.4Z" fill="none"/><path d="M218.6 243.5L242.7 256.4L250.2 270.1ZM218.6 243.5L242.7 256.4L211.1 300.4Z" fill="#cbc129" stroke="none"/><path d="M218.6 243.5L250.2 270.1L242.7 256.4L211.1 300.4Z" fill="none"/><path d="M479.1 220.3L503.2 145.4L510.7 202.1ZM479.1 220.3L471.6 184.8L503.2 145.4Z" fill="#0ebdbb" stroke="none"/><path d="M479.1 220.3L510.7 202.1L503.2 145.4L471.6 184.8Z" fill="none"/><path d="M447.4 200.9L471.6 184.8L479.1 220.3ZM447.4 200.9L439.9 141.2L471.6 184.8Z" fill="#3ac994" stroke="none"/><path d="M447.4 200.9L479.1 220.3L471.6 184.8L439.9 141.2Z" fill="none"/><path d="M415.8 268.7L439.9 141.2L447.4 200.9ZM415.8 268.7L408.3 196.2L439.9 141.2Z" fill="#23a0e5" stroke="none"/><path d="M415.8 268.7L447.4 200.9L439.9 141.2L408.3 196.2Z" fill="none"/><path d="M384.2 233.2L408.3 196.2L415.8 268.7ZM384.2 233.2L376.7 193.5L408.3 196.2Z" fill="#26c2ad" stroke="none"/><path d="M384.2 233.2L415.8 268.7L408.3 196.2L376.7 193.5Z" fill="none"/><path d="M352.6 238.2L376.7 193.5L384.2 233.2ZM352.6 238.2L345.1 211.8L376.7 193.5Z" fill="#26c2ad" stroke="none"/><path d="M352.6 238.2L384.2 233.2L376.7 193.5L345.1 211.8Z" fill="none"/><path d="M321.0 240.9L345.1 211.8L352.6 238.2ZM321.0 240.9L313.5 217.4L345.1 211.8Z" fill="#3ac994" stroke="none"/><path d="M321.0 240.9L352.6 238.2L345.1 211.8L313.5 217.4Z" fill="none"/><path d="M289.4 284.9L313.5 217.4L321.0 240.9ZM289.4 284.9L281.8 232.7L313.5 217.4Z" fill="#07b5d0" stroke="none"/><path d="M289.4 284.9L321.0 240.9L313.5 217.4L281.8 232.7Z" fill="none"/><path d="M257.7 276.5L281.8 232.7L289.4 284.9ZM257.7 276.5L250.2 270.1L281.8 232.7Z" fill="#2dc4a6" stroke="none"/><path d="M257.7 276.5L289.4 284.9L281.8 232.7L250.2 270.1Z" fill="none"/><path d="M226.1 306.4L250.2 270.1L257.7 276.5ZM226.1 306.4L218.6 243.5L250.2 270.1Z" fill="#11b1d6" stroke="none"/><path d="M226.1 306.4L257.7 276.5L250.2 270.1L218.6 243.5Z" fill="none"/><path d="M486.6 216.3L510.7 202.1L518.2 209.4ZM486.6 216.3L479.1 220.3L510.7 202.1Z" fill="#2bc3a8" stroke="none"/><path d="M486.6 216.3L518.2 209.4L510.7 202.1L479.1 220.3Z" fill="none"/><path d="M455.0 221.4L486.6 216.3L479.1 220.3ZM455.0 221.4L447.4 200.9L479.1 220.3Z" fill="#33c69d" stroke="none"/><path d="M455.0 221.4L486.6 216.3L479.1 220.3L447.4 200.9Z" fill="none"/><path d="M423.3 233.6L447.4 200.9L455.0 221.4ZM423.3 233.6L447.4 200.9L415.8 268.7Z" fill="#2dc4a5" stroke="none"/><path d="M423.3 233.6L455.0 221.4L447.4 200.9L415.8 268.7Z" fill="none"/><path d="M391.7 248.9L423.3 233.6L415.8 268.7ZM391.7 248.9L384.2 233.2L415.8 268.7Z" fill="#1bc0b4" stroke="none"/><path d="M391.7 248.9L423.3 233.6L415.8 268.7L384.2 233.2Z" fill="none"/><path d="M360.1 261.1L384.2 233.2L391.7 248.9ZM360.1 261.1L352.6 238.2L384.2 233.2Z" fill="#0ebdbb" stroke="none"/><path d="M360.1 261.1L391.7 248.9L384.2 233.2L352.6 238.2Z" fill="none"/><path d="M328.5 267.4L352.6 238.2L360.1 261.1ZM328.5 267.4L321.0 240.9L352.6 238.2Z" fill="#1bc0b4" stroke="none"/><path d="M328.5 267.4L360.1 261.1L352.6 238.2L321.0 240.9Z" fill="none"/><path d="M296.9 288.7L321.0 240.9L328.5 267.4ZM296.9 288.7L289.4 284.9L321.0 240.9Z" fill="#07b5d0" stroke="none"/><path d="M296.9 288.7L328.5 267.4L321.0 240.9L289.4 284.9Z" fill="none"/><path d="M265.2 289.0L289.4 284.9L296.9 288.7ZM265.2 289.0L257.7 276.5L289.4 284.9Z" fill="#0ebdbb" stroke="none"/><path d="M265.2 289.0L296.9 288.7L289.4 284.9L257.7 276.5Z" fill="none"/><path d="M233.6 300.3L257.7 276.5L265.2 289.0ZM233.6 300.3L226.1 306.4L257.7 276.5Z" fill="#06bcc0" stroke="none"/><path d="M233.6 300.3L265.2 289.0L257.7 276.5L226.1 306.4Z" fill="none"/><path d="M494.1 203.9L525.7 194.6L518.2 209.4ZM494.1 203.9L518.2 209.4L486.6 216.3Z" fill="#5ccc75" stroke="none"/><path d="M494.1 203.9L525.7 194.6L518.2 209.4L486.6 216.3Z" fill="none"/><path d="M462.5 216.2L494.1 203.9L486.6 216.3ZM462.5 216.2L486.6 216.3L455.0 221.4Z" fill="#4fcc80" stroke="none"/><path d="M462.5 216.2L494.1 203.9L486.6 216.3L455.0 221.4Z" fill="none"/><path d="M430.8 208.4L462.5 216.2L455.0 221.4ZM430.8 208.4L455.0 221.4L423.3 233.6Z" fill="#a1c840" stroke="none"/><path d="M430.8 208.4L462.5 216.2L455.0 221.4L423.3 233.6Z" fill="none"/><path d="M399.2 192.0L430.8 208.4L423.3 233.6ZM399.2 192.0L423.3 233.6L391.7 248.9Z" fill="#febe3c" stroke="none"/><path d="M399.2 192.0L430.8 208.4L423.3 233.6L391.7 248.9Z" fill="none"/><path d="M367.6 244.0L399.2 192.0L391.7 248.9ZM367.6 244.0L391.7 248.9L360.1 261.1Z" fill="#4fcc80" stroke="none"/><path d="M367.6 244.0L399.2 192.0L391.7 248.9L360.1 261.1Z" fill="none"/><path d="M336.0 256.2L367.6 244.0L360.1 261.1ZM336.0 256.2L360.1 261.1L328.5 267.4Z" fill="#43ca8a" stroke="none"/><path d="M336.0 256.2L367.6 244.0L360.1 261.1L328.5 267.4Z" fill="none"/><path d="M304.4 268.5L336.0 256.2L328.5 267.4ZM304.4 268.5L328.5 267.4L296.9 288.7Z" fill="#3ac994" stroke="none"/><path d="M304.4 268.5L336.0 256.2L328.5 267.4L296.9 288.7Z" fill="none"/><path d="M272.8 274.8L304.4 268.5L296.9 288.7ZM272.8 274.8L296.9 288.7L265.2 289.0Z" fill="#43ca8a" stroke="none"/><path d="M272.8 274.8L304.4 268.5L296.9 288.7L265.2 289.0Z" fill="none"/><path d="M241.1 286.1L272.8 274.8L265.2 289.0ZM241.1 286.1L265.2 289.0L233.6 300.3Z" fill="#3cc991" stroke="none"/><path d="M241.1 286.1L272.8 274.8L265.2 289.0L233.6 300.3Z" fill="none"/><path d="M501.6 207.7L525.7 194.6L533.2 201.4ZM501.6 207.7L494.1 203.9L525.7 194.6Z" fill="#5ccc75" stroke="none"/><path d="M501.6 207.7L533.2 201.4L525.7 194.6L494.1 203.9Z" fill="none"/><path d="M470.0 222.9L494.1 203.9L501.6 207.7ZM470.0 222.9L462.5 216.2L494.1 203.9Z" fill="#43ca8a" stroke="none"/><path d="M470.0 222.9L501.6 207.7L494.1 203.9L462.5 216.2Z" fill="none"/><path d="M438.4 235.2L462.5 216.2L470.0 222.9ZM438.4 235.2L430.8 208.4L462.5 216.2Z" fill="#3ac994" stroke="none"/><path d="M438.4 235.2L470.0 222.9L462.5 216.2L430.8 208.4Z" fill="none"/><path d="M406.7 256.4L430.8 208.4L438.4 235.2ZM406.7 256.4L399.2 192.0L430.8 208.4Z" fill="#1bc0b4" stroke="none"/><path d="M406.7 256.4L438.4 235.2L430.8 208.4L399.2 192.0Z" fill="none"/><path d="M375.1 247.7L399.2 192.0L406.7 256.4ZM375.1 247.7L367.6 244.0L399.2 192.0Z" fill="#4fcc80" stroke="none"/><path d="M375.1 247.7L406.7 256.4L399.2 192.0L367.6 244.0Z" fill="none"/><path d="M343.5 269.0L367.6 244.0L375.1 247.7ZM343.5 269.0L336.0 256.2L367.6 244.0Z" fill="#2dc4a5" stroke="none"/><path d="M343.5 269.0L375.1 247.7L367.6 244.0L336.0 256.2Z" fill="none"/><path d="M311.9 275.3L336.0 256.2L343.5 269.0ZM311.9 275.3L304.4 268.5L336.0 256.2Z" fill="#33c69d" stroke="none"/><path d="M311.9 275.3L343.5 269.0L336.0 256.2L304.4 268.5Z" fill="none"/><path d="M280.3 281.5L304.4 268.5L311.9 275.3ZM280.3 281.5L272.8 274.8L304.4 268.5Z" fill="#3ac994" stroke="none"/><path d="M280.3 281.5L311.9 275.3L304.4 268.5L272.8 274.8Z" fill="none"/><path d="M248.6 283.0L272.8 274.8L280.3 281.5ZM248.6 283.0L272.8 274.8L241.1 286.1Z" fill="#57cc7a" stroke="none"/><path d="M248.6 283.0L280.3 281.5L272.8 274.8L241.1 286.1Z" fill="none"/><path d="M509.1 202.5L540.7 184.2L533.2 201.4ZM509.1 202.5L533.2 201.4L501.6 207.7Z" fill="#88cb53" stroke="none"/><path d="M509.1 202.5L540.7 184.2L533.2 201.4L501.6 207.7Z" fill="none"/><path d="M477.5 220.7L509.1 202.5L501.6 207.7ZM477.5 220.7L470.0 222.9L501.6 207.7Z" fill="#5ccc75" stroke="none"/><path d="M477.5 220.7L509.1 202.5L501.6 207.7L470.0 222.9Z" fill="none"/><path d="M445.9 233.0L470.0 222.9L477.5 220.7ZM445.9 233.0L438.4 235.2L470.0 222.9Z" fill="#4fcc80" stroke="none"/><path d="M445.9 233.0L477.5 220.7L470.0 222.9L438.4 235.2Z" fill="none"/><path d="M414.2 213.8L445.9 233.0L438.4 235.2ZM414.2 213.8L438.4 235.2L406.7 256.4Z" fill="#d3bf27" stroke="none"/><path d="M414.2 213.8L445.9 233.0L438.4 235.2L406.7 256.4Z" fill="none"/><path d="M382.6 260.5L414.2 213.8L406.7 256.4ZM382.6 260.5L375.1 247.7L406.7 256.4Z" fill="#33c69d" stroke="none"/><path d="M382.6 260.5L414.2 213.8L406.7 256.4L375.1 247.7Z" fill="none"/><path d="M351.0 266.8L375.1 247.7L382.6 260.5ZM351.0 266.8L343.5 269.0L375.1 247.7Z" fill="#3ac994" stroke="none"/><path d="M351.0 266.8L382.6 260.5L375.1 247.7L343.5 269.0Z" fill="none"/><path d="M319.4 273.0L351.0 266.8L343.5 269.0ZM319.4 273.0L343.5 269.0L311.9 275.3Z" fill="#43ca8a" stroke="none"/><path d="M319.4 273.0L351.0 266.8L343.5 269.0L311.9 275.3Z" fill="none"/><path d="M287.8 279.3L319.4 273.0L311.9 275.3ZM287.8 279.3L311.9 275.3L280.3 281.5Z" fill="#4fcc80" stroke="none"/><path d="M287.8 279.3L319.4 273.0L311.9 275.3L280.3 281.5Z" fill="none"/><path d="M256.1 281.1L287.8 279.3L280.3 281.5ZM256.1 281.1L280.3 281.5L248.6 283.0Z" fill="#71cd64" stroke="none"/><path d="M256.1 281.1L287.8 279.3L280.3 281.5L248.6 283.0Z" fill="none"/><path d="M516.6 146.7L540.7 184.2L548.2 207.7ZM516.6 146.7L540.7 184.2L509.1 202.5Z" fill="#f9fb15" stroke="none"/><path d="M516.6 146.7L548.2 207.7L540.7 184.2L509.1 202.5Z" fill="none"/><path d="M485.0 215.5L516.6 146.7L509.1 202.5ZM485.0 215.5L509.1 202.5L477.5 220.7Z" fill="#88cb53" stroke="none"/><path d="M485.0 215.5L516.6 146.7L509.1 202.5L477.5 220.7Z" fill="none"/><path d="M453.4 227.8L485.0 215.5L477.5 220.7ZM453.4 227.8L477.5 220.7L445.9 233.0Z" fill="#79cc5e" stroke="none"/><path d="M453.4 227.8L485.0 215.5L477.5 220.7L445.9 233.0Z" fill="none"/><path d="M421.8 240.0L453.4 227.8L445.9 233.0ZM421.8 240.0L414.2 213.8L445.9 233.0Z" fill="#6acd6a" stroke="none"/><path d="M421.8 240.0L453.4 227.8L445.9 233.0L414.2 213.8Z" fill="none"/><path d="M390.1 234.4L414.2 213.8L421.8 240.0ZM390.1 234.4L414.2 213.8L382.6 260.5Z" fill="#b3c534" stroke="none"/><path d="M390.1 234.4L421.8 240.0L414.2 213.8L382.6 260.5Z" fill="none"/><path d="M358.5 256.5L390.1 234.4L382.6 260.5ZM358.5 256.5L382.6 260.5L351.0 266.8Z" fill="#74cc62" stroke="none"/><path d="M358.5 256.5L390.1 234.4L382.6 260.5L351.0 266.8Z" fill="none"/><path d="M326.9 259.2L358.5 256.5L351.0 266.8ZM326.9 259.2L351.0 266.8L319.4 273.0Z" fill="#95ca49" stroke="none"/><path d="M326.9 259.2L358.5 256.5L351.0 266.8L319.4 273.0Z" fill="none"/><path d="M295.3 274.4L326.9 259.2L319.4 273.0ZM295.3 274.4L319.4 273.0L287.8 279.3Z" fill="#77cc5f" stroke="none"/><path d="M295.3 274.4L326.9 259.2L319.4 273.0L287.8 279.3Z" fill="none"/><path d="M263.7 261.9L295.3 274.4L287.8 279.3ZM263.7 261.9L287.8 279.3L256.1 281.1Z" fill="#dbbd29" stroke="none"/><path d="M263.7 261.9L295.3 274.4L287.8 279.3L256.1 281.1Z" fill="none"/><path d="M524.1 202.5L555.8 203.7L548.2 207.7ZM524.1 202.5L516.6 146.7L548.2 207.7Z" fill="#90ca4d" stroke="none"/><path d="M524.1 202.5L555.8 203.7L548.2 207.7L516.6 146.7Z" fill="none"/><path d="M492.5 223.5L516.6 146.7L524.1 202.5ZM492.5 223.5L485.0 215.5L516.6 146.7Z" fill="#73cd63" stroke="none"/><path d="M492.5 223.5L524.1 202.5L516.6 146.7L485.0 215.5Z" fill="none"/><path d="M460.9 237.5L485.0 215.5L492.5 223.5ZM460.9 237.5L453.4 227.8L485.0 215.5Z" fill="#5ccc75" stroke="none"/><path d="M460.9 237.5L492.5 223.5L485.0 215.5L453.4 227.8Z" fill="none"/><path d="M429.3 246.8L453.4 227.8L460.9 237.5ZM429.3 246.8L421.8 240.0L453.4 227.8Z" fill="#5ccc75" stroke="none"/><path d="M429.3 246.8L460.9 237.5L453.4 227.8L421.8 240.0Z" fill="none"/><path d="M397.6 265.0L421.8 240.0L429.3 246.8ZM397.6 265.0L390.1 234.4L421.8 240.0Z" fill="#3ac994" stroke="none"/><path d="M397.6 265.0L429.3 246.8L421.8 240.0L390.1 234.4Z" fill="none"/><path d="M366.0 247.4L390.1 234.4L397.6 265.0ZM366.0 247.4L390.1 234.4L358.5 256.5Z" fill="#b3c534" stroke="none"/><path d="M366.0 247.4L397.6 265.0L390.1 234.4L358.5 256.5Z" fill="none"/><path d="M334.4 280.6L366.0 247.4L358.5 256.5ZM334.4 280.6L326.9 259.2L358.5 256.5Z" fill="#43ca8a" stroke="none"/><path d="M334.4 280.6L366.0 247.4L358.5 256.5L326.9 259.2Z" fill="none"/><path d="M302.8 283.9L326.9 259.2L334.4 280.6ZM302.8 283.9L295.3 274.4L326.9 259.2Z" fill="#5ccc75" stroke="none"/><path d="M302.8 283.9L334.4 280.6L326.9 259.2L295.3 274.4Z" fill="none"/><path d="M271.2 279.7L295.3 274.4L302.8 283.9ZM271.2 279.7L263.7 261.9L295.3 274.4Z" fill="#9ec942" stroke="none"/><path d="M271.2 279.7L302.8 283.9L295.3 274.4L263.7 261.9Z" fill="none"/><path d="M531.6 204.8L555.8 203.7L563.3 210.5ZM531.6 204.8L524.1 202.5L555.8 203.7Z" fill="#b3c534" stroke="none"/><path d="M531.6 204.8L563.3 210.5L555.8 203.7L524.1 202.5Z" fill="none"/><path d="M500.0 223.0L524.1 202.5L531.6 204.8ZM500.0 223.0L492.5 223.5L524.1 202.5Z" fill="#88cb53" stroke="none"/><path d="M500.0 223.0L531.6 204.8L524.1 202.5L492.5 223.5Z" fill="none"/><path d="M468.4 241.3L492.5 223.5L500.0 223.0ZM468.4 241.3L460.9 237.5L492.5 223.5Z" fill="#5ccc75" stroke="none"/><path d="M468.4 241.3L500.0 223.0L492.5 223.5L460.9 237.5Z" fill="none"/><path d="M436.8 247.6L460.9 237.5L468.4 241.3ZM436.8 247.6L429.3 246.8L460.9 237.5Z" fill="#6acd6a" stroke="none"/><path d="M436.8 247.6L468.4 241.3L460.9 237.5L429.3 246.8Z" fill="none"/><path d="M405.2 265.8L429.3 246.8L436.8 247.6ZM405.2 265.8L397.6 265.0L429.3 246.8Z" fill="#43ca8a" stroke="none"/><path d="M405.2 265.8L436.8 247.6L429.3 246.8L397.6 265.0Z" fill="none"/><path d="M373.5 263.1L397.6 265.0L405.2 265.8ZM373.5 263.1L366.0 247.4L397.6 265.0Z" fill="#79cc5e" stroke="none"/><path d="M373.5 263.1L405.2 265.8L397.6 265.0L366.0 247.4Z" fill="none"/><path d="M341.9 290.3L366.0 247.4L373.5 263.1ZM341.9 290.3L334.4 280.6L366.0 247.4Z" fill="#33c69d" stroke="none"/><path d="M341.9 290.3L373.5 263.1L366.0 247.4L334.4 280.6Z" fill="none"/><path d="M310.3 289.4L334.4 280.6L341.9 290.3ZM310.3 289.4L302.8 283.9L334.4 280.6Z" fill="#54cc7c" stroke="none"/><path d="M310.3 289.4L341.9 290.3L334.4 280.6L302.8 283.9Z" fill="none"/><path d="M278.7 295.4L302.8 283.9L310.3 289.4ZM278.7 295.4L271.2 279.7L302.8 283.9Z" fill="#63cd70" stroke="none"/><path d="M278.7 295.4L310.3 289.4L302.8 283.9L271.2 279.7Z" fill="none"/><path d="M539.1 200.8L563.3 210.5L570.8 215.4ZM539.1 200.8L563.3 210.5L531.6 204.8Z" fill="#d4bf28" stroke="none"/><path d="M539.1 200.8L570.8 215.4L563.3 210.5L531.6 204.8Z" fill="none"/><path d="M507.5 225.3L531.6 204.8L539.1 200.8ZM507.5 225.3L500.0 223.0L531.6 204.8Z" fill="#90ca4d" stroke="none"/><path d="M507.5 225.3L539.1 200.8L531.6 204.8L500.0 223.0Z" fill="none"/><path d="M475.9 243.0L500.0 223.0L507.5 225.3ZM475.9 243.0L468.4 241.3L500.0 223.0Z" fill="#66cd6d" stroke="none"/><path d="M475.9 243.0L507.5 225.3L500.0 223.0L468.4 241.3Z" fill="none"/><path d="M444.3 248.0L468.4 241.3L475.9 243.0ZM444.3 248.0L436.8 247.6L468.4 241.3Z" fill="#7acc5d" stroke="none"/><path d="M444.3 248.0L475.9 243.0L468.4 241.3L436.8 247.6Z" fill="none"/><path d="M412.7 267.8L436.8 247.6L444.3 248.0ZM412.7 267.8L405.2 265.8L436.8 247.6Z" fill="#4acb84" stroke="none"/><path d="M412.7 267.8L444.3 248.0L436.8 247.6L405.2 265.8Z" fill="none"/><path d="M381.1 253.7L412.7 267.8L405.2 265.8ZM381.1 253.7L405.2 265.8L373.5 263.1Z" fill="#b9c431" stroke="none"/><path d="M381.1 253.7L412.7 267.8L405.2 265.8L373.5 263.1Z" fill="none"/><path d="M349.4 308.1L373.5 263.1L381.1 253.7ZM349.4 308.1L341.9 290.3L373.5 263.1Z" fill="#06bcc0" stroke="none"/><path d="M349.4 308.1L381.1 253.7L373.5 263.1L341.9 290.3Z" fill="none"/><path d="M317.8 277.0L341.9 290.3L349.4 308.1ZM317.8 277.0L341.9 290.3L310.3 289.4Z" fill="#a3c83f" stroke="none"/><path d="M317.8 277.0L349.4 308.1L341.9 290.3L310.3 289.4Z" fill="none"/><path d="M286.2 284.8L317.8 277.0L310.3 289.4ZM286.2 284.8L310.3 289.4L278.7 295.4Z" fill="#81cc59" stroke="none"/><path d="M286.2 284.8L317.8 277.0L310.3 289.4L278.7 295.4Z" fill="none"/><path d="M546.7 185.4L578.3 180.6L570.8 215.4ZM546.7 185.4L570.8 215.4L539.1 200.8Z" fill="#fec834" stroke="none"/><path d="M546.7 185.4L578.3 180.6L570.8 215.4L539.1 200.8Z" fill="none"/><path d="M515.0 198.0L546.7 185.4L539.1 200.8ZM515.0 198.0L539.1 200.8L507.5 225.3Z" fill="#fec239" stroke="none"/><path d="M515.0 198.0L546.7 185.4L539.1 200.8L507.5 225.3Z" fill="none"/><path d="M483.4 221.0L515.0 198.0L507.5 225.3ZM483.4 221.0L507.5 225.3L475.9 243.0Z" fill="#dcbd29" stroke="none"/><path d="M483.4 221.0L515.0 198.0L507.5 225.3L475.9 243.0Z" fill="none"/><path d="M451.8 232.4L483.4 221.0L475.9 243.0ZM451.8 232.4L475.9 243.0L444.3 248.0Z" fill="#d4bf28" stroke="none"/><path d="M451.8 232.4L483.4 221.0L475.9 243.0L444.3 248.0Z" fill="none"/><path d="M420.2 271.2L451.8 232.4L444.3 248.0ZM420.2 271.2L412.7 267.8L444.3 248.0Z" fill="#4bcb83" stroke="none"/><path d="M420.2 271.2L451.8 232.4L444.3 248.0L412.7 267.8Z" fill="none"/><path d="M388.6 250.0L420.2 271.2L412.7 267.8ZM388.6 250.0L412.7 267.8L381.1 253.7Z" fill="#d8be28" stroke="none"/><path d="M388.6 250.0L420.2 271.2L412.7 267.8L381.1 253.7Z" fill="none"/><path d="M356.9 289.8L381.1 253.7L388.6 250.0ZM356.9 289.8L381.1 253.7L349.4 308.1Z" fill="#4bcb83" stroke="none"/><path d="M356.9 289.8L388.6 250.0L381.1 253.7L349.4 308.1Z" fill="none"/><path d="M325.3 259.6L356.9 289.8L349.4 308.1ZM325.3 259.6L349.4 308.1L317.8 277.0Z" fill="#f5ba3b" stroke="none"/><path d="M325.3 259.6L356.9 289.8L349.4 308.1L317.8 277.0Z" fill="none"/><path d="M293.7 274.2L325.3 259.6L317.8 277.0ZM293.7 274.2L317.8 277.0L286.2 284.8Z" fill="#e5bb2c" stroke="none"/><path d="M293.7 274.2L325.3 259.6L317.8 277.0L286.2 284.8Z" fill="none"/></g>
<path d="M75.9 323.8L75.9 84.6M75.9 323.8L293.7 433.0M293.7 433.0L578.3 349.6M75.9 323.8L68.6 320.1M75.9 264.0L68.6 260.3M75.9 204.2L68.6 200.5M75.9 144.4L68.6 140.7M75.9 84.6L68.6 80.9M226.1 399.1L218.2 401.4M151.0 361.5L143.1 363.8M75.9 323.8L68.0 326.1M325.3 423.7L332.7 427.4M388.6 405.2L395.9 408.9M451.8 386.6L459.1 390.3M515.0 368.1L522.4 371.8M578.3 349.6L585.6 353.2" stroke="#262626" stroke-width="2.6" fill="none" stroke-linecap="butt"/>
<g font-family="'Liberation Serif','Times New Roman',serif" font-weight="bold" fill="#262626">
<text x="63" y="325.3" font-size="20.3" text-anchor="end">0.96</text>
<text x="63" y="265.5" font-size="20.3" text-anchor="end">0.98</text>
<text x="63" y="205.7" font-size="20.3" text-anchor="end">1</text>
<text x="63" y="145.9" font-size="20.3" text-anchor="end">1.02</text>
<text x="63" y="86.1" font-size="20.3" text-anchor="end">1.04</text>
<text x="51.4" y="347.7" font-size="20.3" text-anchor="middle">30</text>
<text x="127.5" y="386.3" font-size="20.3" text-anchor="middle">20</text>
<text x="202.6" y="423.5" font-size="20.3" text-anchor="middle">10</text>
<text x="344.3" y="449.9" font-size="20.3" text-anchor="middle">2</text>
<text x="407.6" y="431.3" font-size="20.3" text-anchor="middle">4</text>
<text x="470.8" y="412.8" font-size="20.3" text-anchor="middle">6</text>
<text x="534.0" y="394.3" font-size="20.3" text-anchor="middle">8</text>
<text x="591.5" y="374.9" font-size="20.3" text-anchor="start">10</text>
<text transform="translate(16,203.2) rotate(-90)" font-size="22" text-anchor="middle">Volatge magnitude (p.u)</text>
<text transform="translate(126.6,432.6) rotate(19.5)" font-size="22" text-anchor="middle" dy="6">Bus number</text>
<text transform="translate(498,431.5) rotate(-18.5)" font-size="22" text-anchor="middle" dy="6">Scenario number</text>
<defs><linearGradient id="cb" x1="0" y1="1" x2="0" y2="0">
<stop offset="0.0000" stop-color="#3e26a8"/>
<stop offset="0.0159" stop-color="#402ab4"/>
<stop offset="0.0317" stop-color="#422ec0"/>
<stop offset="0.0476" stop-color="#4332cb"/>
<stop offset="0.0635" stop-color="#4537d5"/>
<stop offset="0.0794" stop-color="#463cde"/>
<stop offset="0.0952" stop-color="#4741e5"/>
<stop offset="0.1111" stop-color="#4747eb"/>
<stop offset="0.1270" stop-color="#484df0"/>
<stop offset="0.1429" stop-color="#4852f4"/>
<stop offset="0.1587" stop-color="#4758f8"/>
<stop offset="0.1746" stop-color="#465efb"/>
<stop offset="0.1905" stop-color="#4563fd"/>
<stop offset="0.2063" stop-color="#4269fe"/>
<stop offset="0.2222" stop-color="#3e6fff"/>
<stop offset="0.2381" stop-color="#3875fe"/>
<stop offset="0.2540" stop-color="#327cfc"/>
<stop offset="0.2698" stop-color="#2f81fa"/>
<stop offset="0.2857" stop-color="#2e87f7"/>
<stop offset="0.3016" stop-color="#2d8cf3"/>
<stop offset="0.3175" stop-color="#2b91ef"/>
<stop offset="0.3333" stop-color="#2797eb"/>
<stop offset="0.3492" stop-color="#259be8"/>
<stop offset="0.3651" stop-color="#23a0e5"/>
<stop offset="0.3810" stop-color="#20a5e3"/>
<stop offset="0.3968" stop-color="#1ca9df"/>
<stop offset="0.4127" stop-color="#18addb"/>
<stop offset="0.4286" stop-color="#12b1d6"/>
<stop offset="0.4444" stop-color="#08b5d0"/>
<stop offset="0.4603" stop-color="#01b8ca"/>
<stop offset="0.4762" stop-color="#02bac3"/>
<stop offset="0.4921" stop-color="#0bbdbd"/>
<stop offset="0.5079" stop-color="#19bfb6"/>
<stop offset="0.5238" stop-color="#24c1ae"/>
<stop offset="0.5397" stop-color="#2cc4a7"/>
<stop offset="0.5556" stop-color="#31c69f"/>
<stop offset="0.5714" stop-color="#37c897"/>
<stop offset="0.5873" stop-color="#3fca8e"/>
<stop offset="0.6032" stop-color="#4acb84"/>
<stop offset="0.6190" stop-color="#57cc7a"/>
<stop offset="0.6349" stop-color="#64cd6f"/>
<stop offset="0.6508" stop-color="#72cd64"/>
<stop offset="0.6667" stop-color="#81cc59"/>
<stop offset="0.6825" stop-color="#8fcb4e"/>
<stop offset="0.6984" stop-color="#9dc943"/>
<stop offset="0.7143" stop-color="#abc739"/>
<stop offset="0.7302" stop-color="#b9c431"/>
<stop offset="0.7460" stop-color="#c5c22a"/>
<stop offset="0.7619" stop-color="#d1bf27"/>
<stop offset="0.7778" stop-color="#dcbd29"/>
<stop offset="0.7937" stop-color="#e6bb2d"/>
<stop offset="0.8095" stop-color="#f0ba36"/>
<stop offset="0.8254" stop-color="#f8ba3d"/>
<stop offset="0.8413" stop-color="#febe3c"/>
<stop offset="0.8571" stop-color="#fec338"/>
<stop offset="0.8730" stop-color="#fec934"/>
<stop offset="0.8889" stop-color="#fccf30"/>
<stop offset="0.9048" stop-color="#fad62d"/>
<stop offset="0.9206" stop-color="#f7dc2a"/>
<stop offset="0.9365" stop-color="#f5e327"/>
<stop offset="0.9524" stop-color="#f5e924"/>
<stop offset="0.9683" stop-color="#f6ef20"/>
<stop offset="0.9841" stop-color="#f7f51b"/>
<stop offset="1.0000" stop-color="#f9fb15"/>
</linearGradient></defs>
<rect x="620.25" y="3.5" width="26.5" height="433.0" fill="url(#cb)" stroke="#262626" stroke-width="1"/>
<text x="654.2" y="405.4" font-size="18">0.97</text>
<text x="654.2" y="334.7" font-size="18">0.98</text>
<text x="654.2" y="263.9" font-size="18">0.99</text>
<text x="654.2" y="193.1" font-size="18">1</text>
<text x="654.2" y="122.4" font-size="18">1.01</text>
<text x="654.2" y="51.6" font-size="18">1.02</text>
<path d="M642.2 399.0L646.8 399.0M642.2 328.3L646.8 328.3M642.2 257.5L646.8 257.5M642.2 186.7L646.8 186.7M642.2 116.0L646.8 116.0M642.2 45.2L646.8 45.2" stroke="#262626" stroke-width="1.5"/>
</g>
</svg>
</body></html>
